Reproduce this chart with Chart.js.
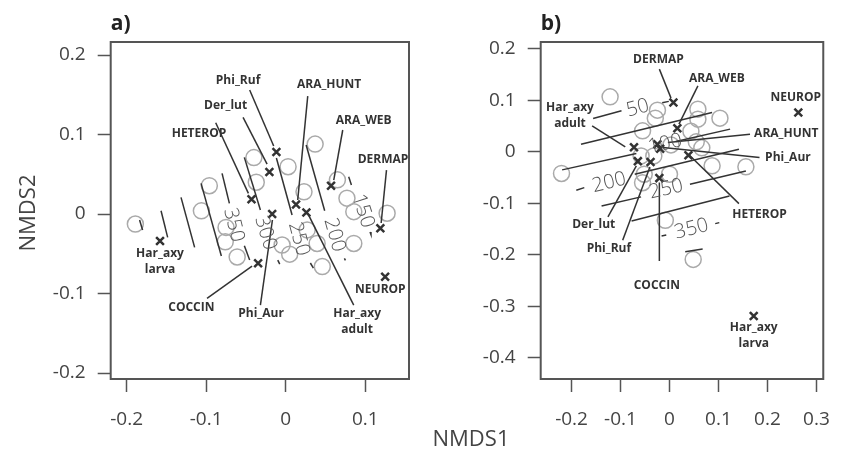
<!DOCTYPE html>
<html>
<head>
<meta charset="utf-8">
<script src="https://cdn.jsdelivr.net/npm/chart.js@4.4.1/dist/chart.umd.min.js"></script>
<style>
  html, body { margin: 0; background: #fff; }
  #wrap { position: relative; width: 846px; height: 450px; }
  #wrap canvas { position: absolute; left: 0; top: 0; }
</style>
</head>
<body>
<div id="wrap">
  <canvas id="panelA" width="846" height="450"></canvas>
  <canvas id="panelB" width="846" height="450"></canvas>
</div>
<script>
// species order used by every species array below
const speciesNames = ['Phi_Ruf', 'Der_lut', 'HETEROP', 'Phi_Aur', 'ARA_HUNT', 'Har_axy\nadult',
  'ARA_WEB', 'DERMAP', 'NEUROP', 'COCCIN', 'Har_axy\nlarva'];

// ---- panel a) ----
const limitsA_x = [-0.22, 0.155];
const limitsA_y = [-0.2075, 0.2164];
const ticksA_x = [-0.2, -0.1, 0, 0.1];
const ticksA_y = [-0.2, -0.1, 0, 0.1, 0.2];

const sitesA = [
  [-0.189, -0.0126], [-0.096, 0.0356], [-0.106, 0.004], [-0.075, -0.0168], [-0.076, -0.035],
  [-0.061, -0.054], [-0.040, 0.071], [0.003, 0.0595], [-0.037, 0.040], [0.037, 0.088],
  [0.023, 0.028], [0.065, 0.043], [0.077, 0.020], [0.0856, 0.003], [0.1275, 0.001],
  [-0.0045, -0.039], [0.005, -0.0505], [0.027, -0.020], [0.0395, -0.037], [0.0856, -0.037],
  [0.046, -0.066]
];
const speciesA = [
  [-0.0117, 0.078], [-0.0205, 0.053], [-0.043, 0.0185], [-0.017, 0.0], [0.013, 0.012],
  [0.026, 0.002], [0.057, 0.0356], [0.119, -0.018], [0.125, -0.079], [-0.0347, -0.062],
  [-0.158, -0.034]
];
const labelA = [
  [-0.0599, 0.1677], [-0.0755, 0.1358], [-0.109, 0.1006], [-0.031, -0.125], [0.0546, 0.1623],
  [0.0898, -0.1355], [0.098, 0.118], [0.1223, 0.0679], [0.119, -0.0956], [-0.1186, -0.118],
  [-0.158, -0.0604]
];
const leaderA = [
  [-0.0453, 0.156, -0.0151, 0.0855], [-0.0536, 0.1216, -0.0234, 0.0629],
  [-0.088, 0.1148, -0.0469, 0.026], [-0.0318, -0.1145, -0.0167, -0.0075],
  [0.0277, 0.1484, 0.0151, 0.0176], [0.0855, -0.1145, 0.0277, 0.0009],
  [0.0717, 0.1057, 0.0604, 0.0428], [0.1267, 0.0553, 0.12, -0.0113],
  null, [-0.0989, -0.106, -0.0423, -0.0654], null
];
// ordisurf contour pieces (broken where the level labels sit)
const contourA = [
  [-0.1837, -0.0075, -0.1799, -0.0201], [-0.1567, 0.0042, -0.1484, -0.0293],
  [-0.1316, 0.021, -0.1145, -0.0419], [-0.1064, 0.0386, -0.0809, -0.0528],
  [-0.08, 0.0512, -0.0708, 0.0135], [-0.052, -0.0399, -0.0453, -0.0579],
  [-0.052, 0.0713, -0.0318, 0.005], [-0.01, -0.0579, -0.0075, -0.0629],
  [-0.0117, 0.0705, 0.008, -0.0013], [0.031, -0.0616, 0.0348, -0.0679],
  [0.0257, 0.0868, 0.049, 0.0042], [0.0738, -0.0557, 0.0751, -0.0582],
  [0.0792, 0.0469, 0.0826, 0.0365], [0.106, -0.0226, 0.1072, -0.0258]
];
const levelTextA = ['350', '300', '250', '200', '150'];
const levelPosA = [[-0.0655, -0.0138], [-0.0255, -0.0239], [0.0164, -0.0314], [0.0613, -0.0264], [0.0971, 0.0038]];
const levelSegA = [4, 6, 8, 10, 12];

// ---- panel b) ----
const limitsB_x = [-0.263, 0.314];
const limitsB_y = [-0.4415, 0.2136];
const ticksB_x = [-0.2, -0.1, 0, 0.1, 0.2, 0.3];
const ticksB_y = [-0.4, -0.3, -0.2, -0.1, 0, 0.1, 0.2];

const sitesB = [
  [-0.1213, 0.107], [-0.0246, 0.0811], [-0.029, 0.0656], [-0.055, 0.0409], [0.058, 0.083],
  [0.058, 0.0636], [0.103, 0.0656], [0.0437, 0.040], [0.0547, 0.0195], [0.003, 0.0136],
  [0.066, 0.0078], [-0.058, -0.0078], [-0.032, -0.0078], [0.0, -0.0434], [-0.0516, -0.0434],
  [-0.055, -0.060], [0.087, -0.027], [0.156, -0.029], [-0.2205, -0.042], [-0.0085, -0.133],
  [0.0484, -0.209]
];
const speciesB = [
  [-0.0387, -0.0195], [-0.0646, -0.018], [0.0387, -0.0064], [-0.019, 0.006], [-0.0246, 0.015],
  [-0.0725, 0.009], [0.016, 0.046], [0.008, 0.096], [0.263, 0.0765], [-0.0207, -0.051],
  [0.172, -0.319]
];
const labelB = [
  [-0.1238, -0.1874], [-0.1547, -0.142], [0.1838, -0.1212], [0.2418, -0.0111], [0.2385, 0.0356],
  [-0.2031, 0.0707], [0.0967, 0.143], [-0.0226, 0.180], [0.258, 0.1056], [-0.0259, -0.2593],
  [0.1721, -0.358]
];
const leaderB = [
  [-0.0956, -0.1718, -0.04, -0.0292], [-0.1257, -0.1265, -0.0677, -0.0272],
  [0.1418, -0.1006, 0.0387, -0.0045], [0.1838, -0.0111, -0.013, 0.0084],
  [0.1644, 0.0344, -0.0033, 0.0181], [-0.158, 0.0506, -0.0903, 0.0097],
  [0.058, 0.1284, 0.0193, 0.0539], [-0.0207, 0.1609, 0.0031, 0.1045],
  null, [-0.0207, -0.2121, -0.0207, -0.0597], null
];
const contourB = [
  [-0.156, 0.0648, -0.098, 0.0798], [-0.0149, 0.0953, -0.0014, 0.0982],
  [-0.1807, 0.015, 0.087, 0.0765], [-0.2193, -0.035, -0.0677, -0.0033],
  [0.0128, 0.020, 0.1238, 0.0442], [-0.1903, -0.0745, -0.174, -0.0695],
  [-0.071, -0.0434, 0.1418, 0.0053], [-0.1387, -0.105, -0.058, -0.0875],
  [0.0418, -0.0628, 0.156, -0.037], [-0.0774, -0.1342, 0.1224, -0.0856],
  [-0.0162, -0.1634, -0.0066, -0.1615], [0.0934, -0.1395, 0.1017, -0.1375],
  [0.0321, -0.194, 0.0677, -0.189]
];
const levelTextB = ['50', '100', '200', '250', '350'];
const levelPosB = [[-0.0646, 0.085], [-0.009, 0.0156], [-0.1232, -0.0597], [-0.0066, -0.0726], [0.045, -0.150]];
const levelSegB = [0, 3, 6, 7, 9];

const FONT = '"Open Sans", "Noto Sans", sans-serif';
const INK = '#333';
const AXIS = '#555';

const fmtTick = v => (Math.abs(v) < 1e-9 ? '0' : String(Math.round(v * 10) / 10));
const toPts = arr => arr.map(p => ({ x: p[0], y: p[1] }));

function segDatasets(segs, width, order) {
  return segs.filter(s => s).map(s => ({
    data: [{ x: s[0], y: s[1] }, { x: s[2], y: s[3] }],
    showLine: true,
    borderColor: INK,
    borderWidth: width,
    pointRadius: 0,
    fill: false,
    order: order
  }));
}

// frame, species names, contour level labels and panel texts
function annotPlugin(p) {
  return {
    id: 'annot',
    afterDatasetsDraw(chart) {
      const { ctx, chartArea: ca } = chart;
      const xs = chart.scales.x, ys = chart.scales.y;
      ctx.save();
      ctx.strokeStyle = AXIS;
      ctx.lineWidth = 2;
      ctx.strokeRect(ca.left, ca.top, ca.right - ca.left, ca.bottom - ca.top);

      // contour level labels, turned along their contour line
      ctx.fillStyle = '#555';
      ctx.font = '300 20px ' + FONT;
      ctx.textAlign = 'center';
      ctx.textBaseline = 'middle';
      p.levelText.forEach((t, i) => {
        const s = p.contours[p.levelSeg[i]];
        const dx = xs.getPixelForValue(s[2]) - xs.getPixelForValue(s[0]);
        const dy = ys.getPixelForValue(s[3]) - ys.getPixelForValue(s[1]);
        ctx.save();
        ctx.translate(xs.getPixelForValue(p.levelPos[i][0]), ys.getPixelForValue(p.levelPos[i][1]));
        ctx.rotate(Math.atan2(dy, dx));
        ctx.fillText(t, 0, 0);
        ctx.restore();
      });

      // species names
      ctx.fillStyle = INK;
      ctx.font = 'bold 12px ' + FONT;
      speciesNames.forEach((name, i) => {
        const lines = name.split('\n');
        const cx = xs.getPixelForValue(p.labels[i][0]);
        const cy = ys.getPixelForValue(p.labels[i][1]);
        lines.forEach((ln, k) => {
          ctx.fillText(ln, cx, cy + (k - (lines.length - 1) / 2) * 16);
        });
      });

      // panel tag
      ctx.fillStyle = '#222';
      ctx.font = 'bold 21px ' + FONT;
      ctx.textAlign = 'left';
      ctx.textBaseline = 'alphabetic';
      ctx.fillText(p.tag, ca.left, 30);

      // axis title
      ctx.fillStyle = '#444';
      ctx.font = '22px ' + FONT;
      ctx.textAlign = 'center';
      ctx.textBaseline = 'middle';
      if (p.yTitle) {
        ctx.save();
        ctx.translate(29, 213);
        ctx.rotate(-Math.PI / 2);
        ctx.fillText(p.yTitle, 0, 0);
        ctx.restore();
      }
      if (p.xTitle) ctx.fillText(p.xTitle, 471, 440);
      ctx.restore();
    }
  };
}

function axis(lim, ticks, isX) {
  return {
    type: 'linear',
    position: isX ? 'bottom' : 'left',
    min: lim[0],
    max: lim[1],
    afterBuildTicks: s => { s.ticks = ticks.map(v => ({ value: v })); },
    afterFit: s => { if (isX) s.height = 50; else s.width = 60; },
    grid: { display: true, drawOnChartArea: false, drawTicks: true, tickLength: 13, tickWidth: 1.5, tickColor: AXIS },
    border: { display: false },
    ticks: {
      padding: isX ? 16 : 12,
      color: '#444',
      font: { family: FONT, size: 19 },
      maxRotation: 0,
      autoSkip: false,
      callback: v => fmtTick(v)
    }
  };
}

function buildPanel(id, p) {
  const datasets = [
    {
      data: toPts(p.species),
      pointStyle: 'crossRot',
      pointRadius: 5.5,
      borderColor: INK,
      borderWidth: 2.5,
      order: 0
    },
    ...segDatasets(p.leaders, 1.5, 1),
    ...segDatasets(p.contours, 1.5, 2),
    {
      data: toPts(p.sites),
      pointStyle: 'circle',
      pointRadius: 8,
      borderColor: '#aaa',
      borderWidth: 1.5,
      backgroundColor: 'rgba(0,0,0,0)',
      order: 3
    }
  ];
  return new Chart(document.getElementById(id), {
    type: 'scatter',
    data: { datasets },
    options: {
      responsive: false,
      devicePixelRatio: 1,
      animation: false,
      layout: { padding: p.padding },
      plugins: { legend: { display: false }, tooltip: { enabled: false } },
      scales: { x: axis(p.xLim, p.xTicks, true), y: axis(p.yLim, p.yTicks, false) }
    },
    plugins: [annotPlugin(p)]
  });
}

buildPanel('panelA', {
  sites: sitesA, species: speciesA, labels: labelA, leaders: leaderA,
  contours: contourA, levelText: levelTextA, levelPos: levelPosA, levelSeg: levelSegA,
  xLim: limitsA_x, yLim: limitsA_y, xTicks: ticksA_x, yTicks: ticksA_y,
  padding: { left: 50.7, right: 437, top: 42, bottom: 21 },
  tag: 'a)', yTitle: 'NMDS2'
});

buildPanel('panelB', {
  sites: sitesB, species: speciesB, labels: labelB, leaders: leaderB,
  contours: contourB, levelText: levelTextB, levelPos: levelPosB, levelSeg: levelSegB,
  xLim: limitsB_x, yLim: limitsB_y, xTicks: ticksB_x, yTicks: ticksB_y,
  padding: { left: 480.7, right: 7, top: 42, bottom: 21 },
  tag: 'b)', xTitle: 'NMDS1'
});
</script>
</body>
</html>
